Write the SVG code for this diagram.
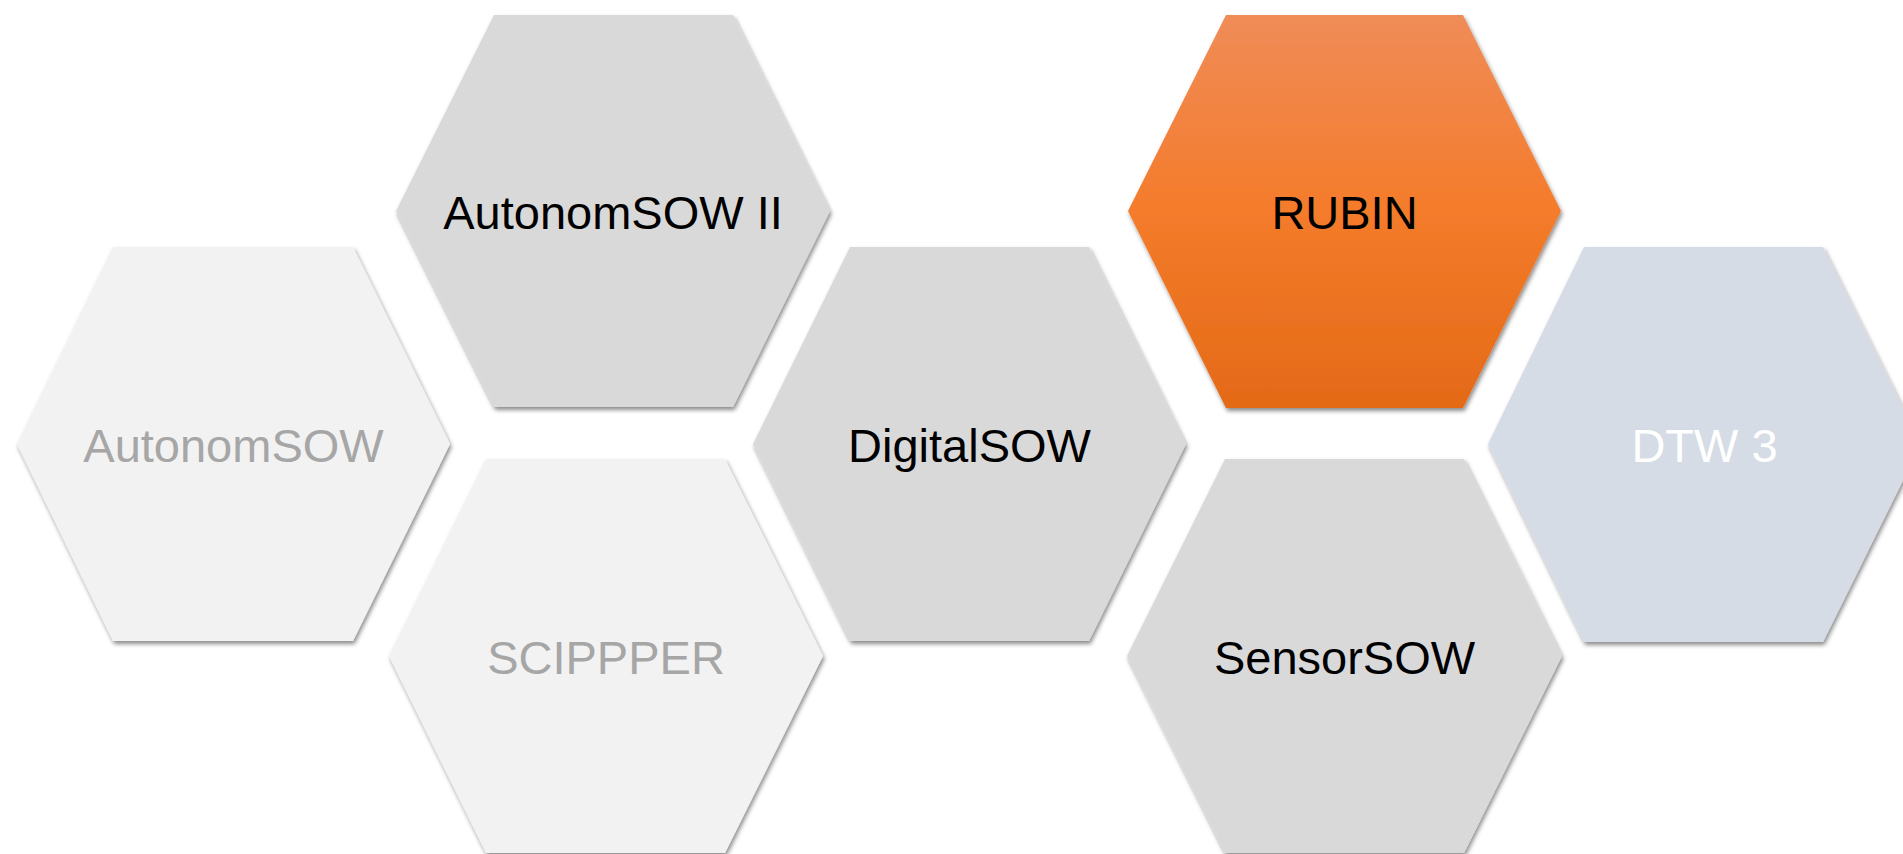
<svg xmlns="http://www.w3.org/2000/svg" width="1903" height="854" viewBox="0 0 1903 854">
  <style>
    .hex { filter: url(#shadow); }
    .gray { fill: #d9d9d9; }
    .light { fill: #f2f2f2; }
    .blue { fill: #d6dce5; }
    .orange { fill: url(#orangeGrad); }
    text { font-family: "Liberation Sans", Arial, sans-serif; font-size: 47px; text-anchor: middle; }
    .dark { fill: #000000; }
    .muted { fill: #a6a6a6; }
    .white { fill: #ffffff; }
  </style>
  <defs>
    <filter id="shadow" x="-10%" y="-10%" width="120%" height="120%">
      <feDropShadow dx="1.5" dy="3" stdDeviation="2.2" flood-color="#000000" flood-opacity="0.45"/>
    </filter>
    <linearGradient id="orangeGrad" x1="0" y1="0" x2="0" y2="1">
      <stop offset="0" stop-color="#f08c58"/>
      <stop offset="0.5" stop-color="#f47b2a"/>
      <stop offset="1" stop-color="#e46a18"/>
    </linearGradient>
  </defs>
  <rect width="1903" height="854" fill="#ffffff"/>

  <g id="node-autonomsow">
    <polygon class="hex light" points="17,444 113,247 353,247 450,444 353,641 113,641"/>
    <text class="muted" x="233.5" y="462">AutonomSOW</text>
  </g>
  <g id="node-autonomsow-ii">
    <polygon class="hex gray" points="396,211 494,15 733,15 830,211 733,407 494,407"/>
    <text class="dark" x="613" y="229">AutonomSOW II</text>
  </g>
  <g id="node-scippper">
    <polygon class="hex light" points="389,656 486,459 725,459 823,656 725,853 486,853"/>
    <text class="muted" x="606" y="674">SCIPPPER</text>
  </g>
  <g id="node-digitalsow">
    <polygon class="hex gray" points="753,444 850,247 1089,247 1186,444 1089,641 850,641"/>
    <text class="dark" x="969.5" y="462">DigitalSOW</text>
  </g>
  <g id="node-rubin">
    <polygon class="hex orange" points="1128,211 1226,15 1463,15 1561,211 1463,408 1226,408"/>
    <text class="dark" x="1344.5" y="229">RUBIN</text>
  </g>
  <g id="node-sensorsow">
    <polygon class="hex gray" points="1127,656 1225,459 1464,459 1562,656 1464,853 1225,853"/>
    <text class="dark" x="1344.5" y="674">SensorSOW</text>
  </g>
  <g id="node-dtw3">
    <polygon class="hex blue" points="1488,444 1584,247 1823,247 1921,444 1823,642 1584,642"/>
    <text class="white" x="1704.5" y="462">DTW 3</text>
  </g>
  <g id="connectors"/>
</svg>
